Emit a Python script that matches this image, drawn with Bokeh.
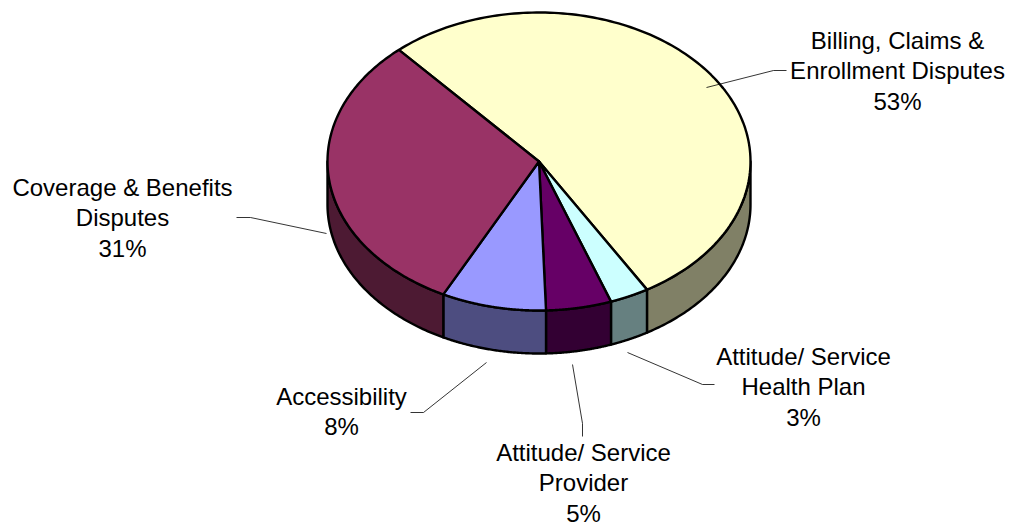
import numpy as np
from bokeh.plotting import figure
from bokeh.embed import file_html
from bokeh.resources import INLINE
from bokeh.core.properties import value

# Complaint categories, in clockwise drawing order
categories = [
    "Billing, Claims &\nEnrollment Disputes",
    "Attitude/ Service\nHealth Plan",
    "Attitude/ Service\nProvider",
    "Accessibility",
    "Coverage & Benefits\nDisputes",
]
shares = [53, 3, 5, 8, 31]
top_colors = ["#FFFFCC", "#CCFFFF", "#660066", "#9999FF", "#993366"]
side_colors = ["#808066", "#668080", "#330033", "#4D4D80", "#4D1A33"]

# Pie geometry on a page-pixel scale
CX, CY = 538.5, 161.0
RX, RY = 211.5, 149.0
DEPTH = 43.0
START_DEG = -41.5

# Centre of each label block, and its callout polyline
label_x = [897, 803, 583, 341, 122]
label_y = [40, 356, 452, 396, 187]
callouts = [
    ([706, 773, 786], [87, 70, 70]),
    ([627, 702, 714], [352, 384, 384]),
    ([572, 582, 582], [364, 423, 436]),
    ([486, 423, 410], [362, 412, 412]),
    ([326, 250, 236], [233, 217, 217]),
]
LINE_STEP = 30.3


def rim(a0, a1, n=80):
    t = np.radians(np.linspace(a0, a1, n))
    return CX + RX * np.sin(t), CY - RY * np.cos(t)


p = figure(width=1011, height=527, x_range=(0, 1011), y_range=(527, 0),
           toolbar_location=None, output_backend="svg", min_border=0,
           outline_line_color=None, background_fill_color="white")
p.axis.visible = False
p.grid.visible = False

edges = START_DEG + np.concatenate([[0], np.cumsum(shares)]) * 3.6 / (sum(shares) / 100)

# Wall of the drum: only the front half of the rim (90 to 270 degrees) shows
for a0, a1, col in zip(edges[:-1], edges[1:], side_colors):
    for lo, hi in ((a0, a1), (a0 + 360, a1 + 360)):
        s, e = max(lo, 90), min(hi, 270)
        if e <= s:
            continue
        x, y = rim(s, e)
        p.patch(np.r_[x, x[::-1]], np.r_[y, y[::-1] + DEPTH],
                fill_color=col, line_color="black", line_width=2.4, line_join="round")

# Top face wedges
for a0, a1, col in zip(edges[:-1], edges[1:], top_colors):
    x, y = rim(a0, a1, 160)
    p.patch(np.r_[CX, x], np.r_[CY, y],
            fill_color=col, line_color="black", line_width=2.4, line_join="round")

# Callouts
for xs, ys in callouts:
    p.line(xs, ys, line_color="black", line_width=0.8)

# Labels: name lines followed by the percentage
for name, share, lx, ly in zip(categories, shares, label_x, label_y):
    lines = name.split("\n") + [f"{share}%"]
    p.text([lx] * len(lines), [ly + i * LINE_STEP for i in range(len(lines))], text=lines,
           text_align="center", text_baseline="middle", text_color="black",
           text_font=value("Liberation Sans"), text_font_size="24px")

open("out.html", "w").write(file_html(p, INLINE))
